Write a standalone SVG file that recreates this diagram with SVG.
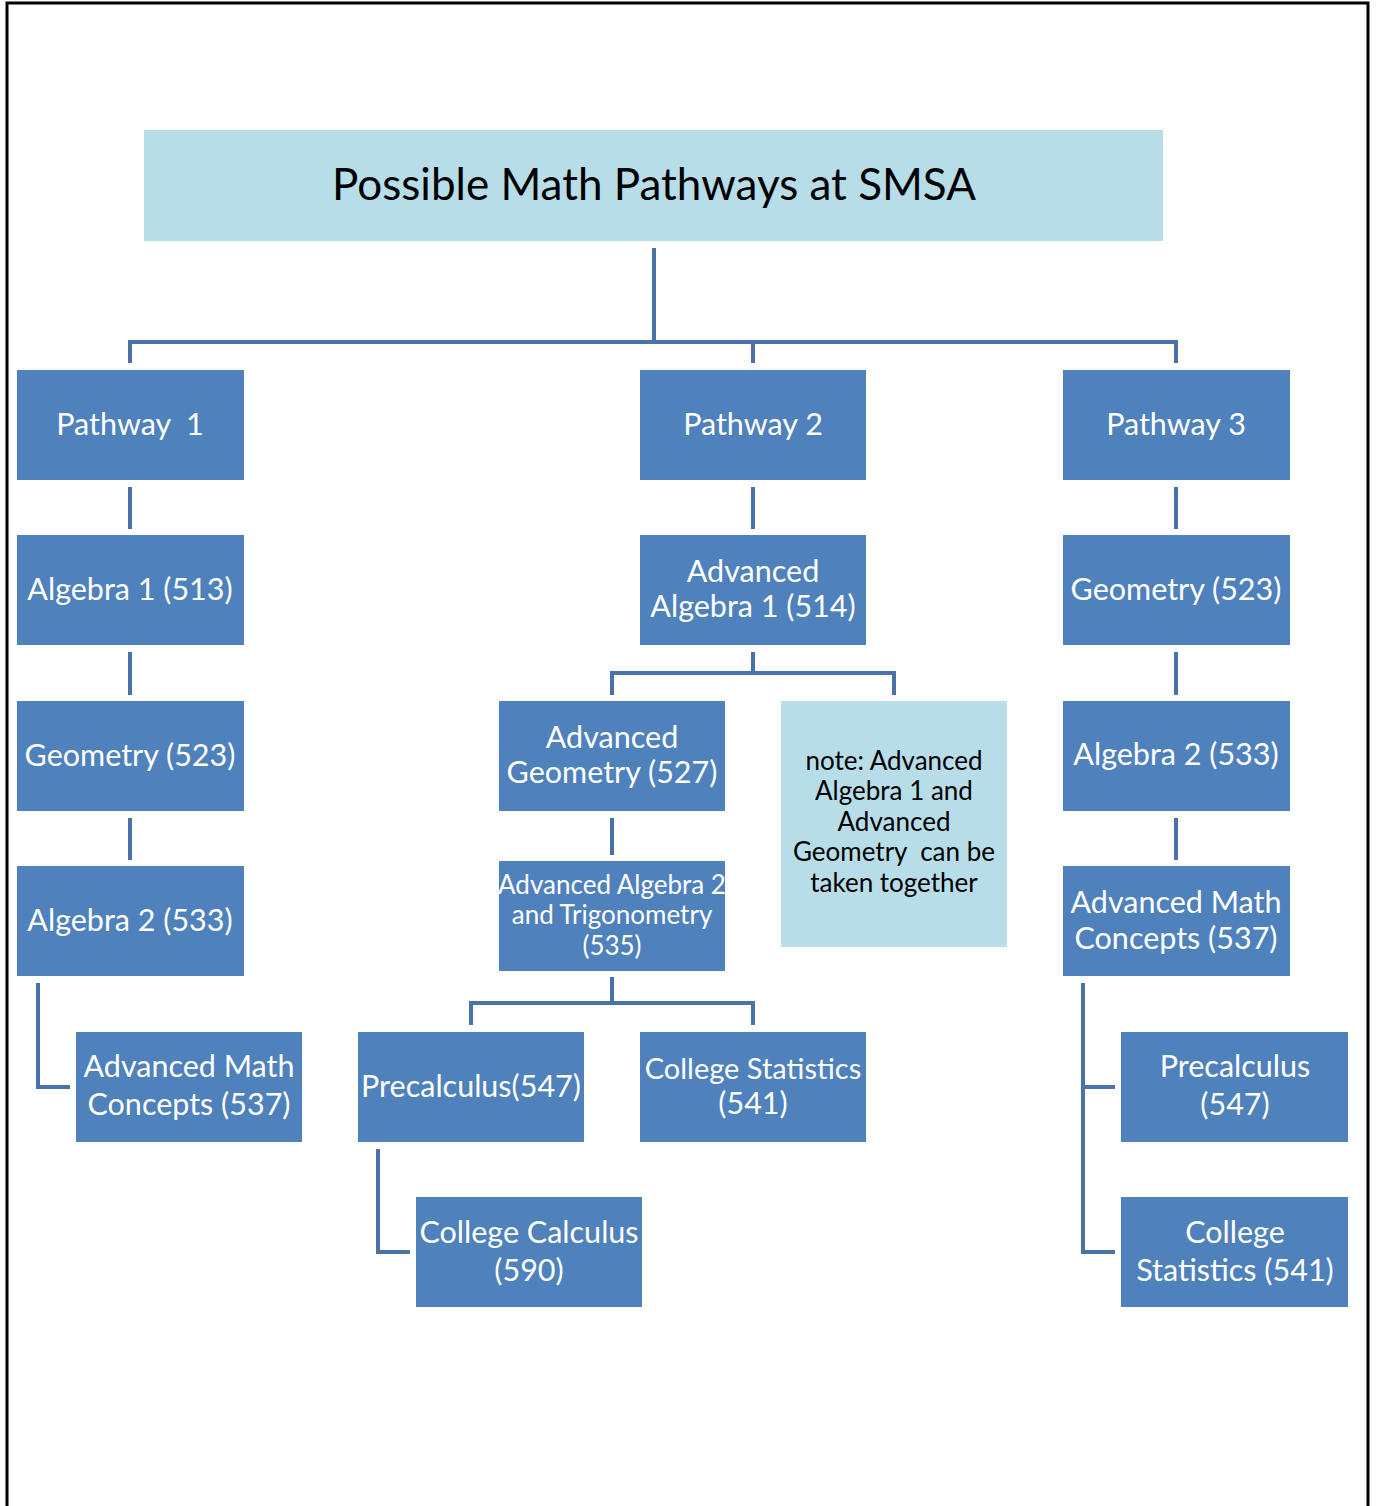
<svg xmlns="http://www.w3.org/2000/svg" width="1377" height="1506" viewBox="0 0 1377 1506">
<style>
.n{fill:#4F81BD}
.t{font-family:Lato,"Liberation Sans",sans-serif;font-size:30.5px;fill:#fff;text-anchor:middle}
.s{font-size:26px}
.k{font-family:Lato,"Liberation Sans",sans-serif;font-size:26px;fill:#000;text-anchor:middle}
.c{fill:none;stroke:#4A72A8;stroke-width:4}
</style>
<rect width="1377" height="1506" fill="#fff"/>
<path d="M7,1506 V3 H1368 V1506" fill="none" stroke="#000" stroke-width="3"/>
<g id="connectors">
<path class="c" d="M654,248 V342 M130,363 V342 H1176 V363 M753,342 V363"/>
<path class="c" d="M130,487 V529 M130,652 V695 M130,818 V860 M38,983 V1087 H70"/>
<path class="c" d="M753,487 V529 M753,652 V673 M612,695 V673 H894 V695 M612,818 V855 M612,977 V1003 M471,1025 V1003 H753 V1025 M378,1149 V1252 H410"/>
<path class="c" d="M1176,487 V529 M1176,652 V695 M1176,818 V860 M1083,983 V1252 H1115 M1083,1087 H1115"/>
</g>
<g id="title"><rect x="144" y="130" width="1019" height="111" fill="#B7DDE8"/><text x="654" y="200" font-family="Lato,'Liberation Sans',sans-serif" font-size="44" text-anchor="middle" fill="#000">Possible Math Pathways at SMSA</text></g>
<g id="p1"><rect class="n" x="17" y="370" width="227" height="110"/><text class="t" x="130" y="435" xml:space="preserve">Pathway  1</text></g>
<g id="p1a1"><rect class="n" x="17" y="535" width="227" height="110"/><text class="t" x="130" y="600">Algebra 1 (513)</text></g>
<g id="p1geo"><rect class="n" x="17" y="701" width="227" height="110"/><text class="t" x="130" y="766">Geometry (523)</text></g>
<g id="p1a2"><rect class="n" x="17" y="866" width="227" height="110"/><text class="t" x="130" y="931">Algebra 2 (533)</text></g>
<g id="p1amc"><rect class="n" x="76" y="1032" width="226" height="110"/><text class="t" x="189" y="1077">Advanced Math</text><text class="t" x="189" y="1115">Concepts (537)</text></g>
<g id="p2"><rect class="n" x="640" y="370" width="226" height="110"/><text class="t" x="753" y="435">Pathway 2</text></g>
<g id="p2aa1"><rect class="n" x="640" y="535" width="226" height="110"/><text class="t" x="753" y="582">Advanced</text><text class="t" x="753" y="617">Algebra 1 (514)</text></g>
<g id="p2ageo"><rect class="n" x="499" y="701" width="226" height="110"/><text class="t" x="612" y="748">Advanced</text><text class="t" x="612" y="783">Geometry (527)</text></g>
<g id="note"><rect x="781" y="701" width="226" height="246" fill="#B7DDE8"/><text class="k" x="894" y="770">note: Advanced</text><text class="k" x="894" y="800">Algebra 1 and</text><text class="k" x="894" y="831">Advanced</text><text class="k" x="894" y="861" xml:space="preserve">Geometry  can be</text><text class="k" x="894" y="892">taken together</text></g>
<g id="p2aa2"><rect class="n" x="499" y="861" width="226" height="110"/><text class="t s" x="612" y="894">Advanced Algebra 2</text><text class="t s" x="612" y="924">and Trigonometry</text><text class="t s" x="612" y="955">(535)</text></g>
<g id="p2pre"><rect class="n" x="358" y="1032" width="226" height="110"/><text class="t" x="471" y="1097">Precalculus(547)</text></g>
<g id="p2cs"><rect class="n" x="640" y="1032" width="226" height="110"/><text class="t" x="753" y="1079" style="font-size:29px">College Statistics</text><text class="t" x="753" y="1114">(541)</text></g>
<g id="p2cc"><rect class="n" x="416" y="1197" width="226" height="110"/><text class="t" x="529" y="1243">College Calculus</text><text class="t" x="529" y="1281">(590)</text></g>
<g id="p3"><rect class="n" x="1063" y="370" width="227" height="110"/><text class="t" x="1176" y="435">Pathway 3</text></g>
<g id="p3geo"><rect class="n" x="1063" y="535" width="227" height="110"/><text class="t" x="1176" y="600">Geometry (523)</text></g>
<g id="p3a2"><rect class="n" x="1063" y="701" width="227" height="110"/><text class="t" x="1176" y="765">Algebra 2 (533)</text></g>
<g id="p3amc"><rect class="n" x="1063" y="866" width="227" height="110"/><text class="t" x="1176" y="913">Advanced Math</text><text class="t" x="1176" y="949">Concepts (537)</text></g>
<g id="p3pre"><rect class="n" x="1121" y="1032" width="227" height="110"/><text class="t" x="1235" y="1077">Precalculus</text><text class="t" x="1235" y="1115">(547)</text></g>
<g id="p3cs"><rect class="n" x="1121" y="1197" width="227" height="110"/><text class="t" x="1235" y="1243">College</text><text class="t" x="1235" y="1281">Statistics (541)</text></g>
</svg>
